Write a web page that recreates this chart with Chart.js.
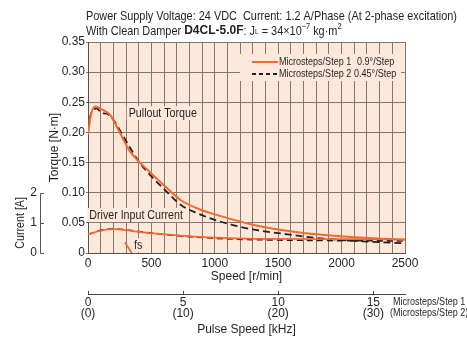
<!DOCTYPE html>
<html lang="en">
<head>
<meta charset="UTF-8" />
<title>Speed - Torque Characteristics</title>
<style>
  html, body { margin: 0; padding: 0; background: #fff; }
  canvas { display: block; }
</style>
</head>
<body>
<canvas id="torqueChart" width="467" height="343"></canvas>
<script src="https://cdn.jsdelivr.net/npm/chart.js"></script>
<script>
const FONT = "'Liberation Sans', Arial, sans-serif";
const SX = 0.82; // horizontal squeeze for the condensed look of the original lettering
const ORANGE = '#f26a2e';
const DARK = '#231f20';
const PLOT_BG = '#fde9dc';
const GRID = '#85776e';

// Pullout torque [N·m], Microsteps/Step 1 (0.9°/Step)
const torque1Speed = [0, 20, 55, 120, 175, 250, 330, 400, 500, 600, 730, 850, 1000, 1150, 1300, 1500, 1800, 2100, 2500];
const torque1 = [0.196, 0.226, 0.243, 0.237, 0.229, 0.200, 0.169, 0.152, 0.132, 0.112, 0.088, 0.075, 0.064, 0.055, 0.047, 0.039, 0.031, 0.026, 0.022];

// Pullout torque [N·m], Microsteps/Step 2 (0.45°/Step)
const torque2Speed = [0, 20, 42, 68, 108, 147, 200, 280, 400, 500, 600, 730, 850, 1000, 1150, 1300, 1500, 1800, 2200, 2500];
const torque2 = [0.204, 0.228, 0.237, 0.240, 0.232, 0.231, 0.221, 0.193, 0.152, 0.127, 0.106, 0.080, 0.067, 0.055, 0.046, 0.039, 0.033, 0.025, 0.019, 0.016];

// Driver input current [A]
const currentSpeed = [0, 100, 200, 300, 400, 500, 750, 1000, 1250, 1500, 2000, 2500];
const current1 = [0.62, 0.74, 0.79, 0.76, 0.70, 0.66, 0.57, 0.51, 0.48, 0.47, 0.46, 0.45];
const current2 = [0.62, 0.75, 0.80, 0.77, 0.71, 0.66, 0.56, 0.49, 0.45, 0.43, 0.41, 0.40];

// fs (start frequency) marker
const fsSpeed = [290, 345];
const fsTorque = [0.018, 0];

const speedTicks = [0, 500, 1000, 1500, 2000, 2500];
const pulseTicks = [0, 5, 10, 15];
const currentTicks = [0, 1, 2];

const SPEED_MAX = 2500;
const PULSE_MAX = SPEED_MAX * 400 / 60 / 1000; // kHz at 0.9°/step

function pts(xs, ys) {
  return xs.map((x, i) => ({ x: x, y: ys[i] }));
}

// draw squeezed text, returns drawn width
function condText(ctx, text, x, y, align) {
  ctx.save();
  ctx.translate(x, y);
  ctx.scale(SX, 1);
  ctx.textAlign = align || 'left';
  ctx.fillText(text, 0, 0);
  ctx.restore();
  return ctx.measureText(text).width * SX;
}

function boxedText(ctx, text, px, py, align) {
  ctx.font = '13px ' + FONT;
  const w = ctx.measureText(text).width * SX;
  const x0 = align === 'left' ? px : px - w / 2;
  ctx.fillStyle = PLOT_BG;
  ctx.fillRect(x0 - 2, py - 7, w + 4, 14);
  ctx.fillStyle = DARK;
  ctx.textBaseline = 'middle';
  condText(ctx, text, x0, py, 'left');
}

const decorations = {
  id: 'decorations',
  beforeDraw(chart) {
    const { ctx, chartArea: a } = chart;
    ctx.save();
    ctx.fillStyle = PLOT_BG;
    ctx.fillRect(a.left, a.top, a.right - a.left, a.bottom - a.top);
    ctx.restore();
  },
  beforeDatasetsDraw(chart) {
    const { ctx, chartArea: a, scales: { x, y } } = chart;
    ctx.save();
    boxedText(ctx, 'Pullout Torque', x.getPixelForValue(590), y.getPixelForValue(0.232), 'center');
    boxedText(ctx, 'Driver Input Current', x.getPixelForValue(10), y.getPixelForValue(0.063), 'left');
    boxedText(ctx, 'fs', x.getPixelForValue(395), y.getPixelForValue(0.013), 'center');

    // legend box
    const lx = a.right - 165, ly = a.top + 12;
    ctx.fillStyle = PLOT_BG;
    ctx.fillRect(lx, ly, 161, 27);
    ctx.lineWidth = 2;
    ctx.strokeStyle = ORANGE;
    ctx.beginPath();
    ctx.moveTo(lx + 12, ly + 8);
    ctx.lineTo(lx + 38, ly + 8);
    ctx.stroke();
    ctx.strokeStyle = DARK;
    ctx.lineWidth = 1.8;
    ctx.setLineDash([4, 3]);
    ctx.beginPath();
    ctx.moveTo(lx + 12, ly + 20);
    ctx.lineTo(lx + 38, ly + 20);
    ctx.stroke();
    ctx.setLineDash([]);
    ctx.font = '11px ' + FONT;
    ctx.fillStyle = DARK;
    ctx.textBaseline = 'middle';
    condText(ctx, 'Microsteps/Step 1', lx + 39, ly + 8);
    condText(ctx, '0.9°/Step', lx + 117, ly + 8);
    condText(ctx, 'Microsteps/Step 2', lx + 39, ly + 20);
    condText(ctx, '0.45°/Step', lx + 114, ly + 20);
    ctx.restore();
  },
  afterDraw(chart) {
    const { ctx, scales: { yc, x2 } } = chart;
    ctx.save();
    ctx.fillStyle = DARK;
    ctx.textBaseline = 'middle';

    // heading
    ctx.font = '13.3px ' + FONT;
    condText(ctx, 'Power Supply Voltage: 24 VDC  Current: 1.2 A/Phase (At 2-phase excitation)', 86, 16);
    let cx = 86;
    const seg = (t, font, dy, sq) => {
      ctx.font = font;
      if (sq === false) {
        ctx.textAlign = 'left';
        ctx.fillText(t, cx, 31 + (dy || 0));
        cx += ctx.measureText(t).width;
      } else {
        cx += condText(ctx, t, cx, 31 + (dy || 0));
      }
    };
    seg('With Clean Damper ', '13.3px ' + FONT);
    seg('D4CL-5.0F', "bold 12px 'Liberation Sans', Arial, sans-serif", 0, false);
    seg(': J', '13.3px ' + FONT);
    seg('L', '8px ' + FONT, 1);
    seg(' = 34×10', '13.3px ' + FONT);
    seg('−7', '9px ' + FONT, -4);
    seg(' kg·m', '13.3px ' + FONT);
    seg('2', '9px ' + FONT, -4);

    // current axis (bracket)
    const cTop = Math.round(yc.getPixelForValue(2)) + 0.5;
    const cBot = Math.round(yc.getPixelForValue(0)) + 0.5;
    ctx.strokeStyle = '#555';
    ctx.lineWidth = 1;
    ctx.beginPath();
    ctx.moveTo(40.5, cTop);
    ctx.lineTo(40.5, cBot);
    currentTicks.forEach(v => {
      const py = Math.round(yc.getPixelForValue(v)) + 0.5;
      ctx.moveTo(40.5, py);
      ctx.lineTo(44, py);
    });
    ctx.stroke();
    ctx.font = '12px ' + FONT;
    ctx.textAlign = 'right';
    currentTicks.forEach(v => ctx.fillText(String(v), 37, yc.getPixelForValue(v)));
    ctx.save();
    ctx.translate(20, yc.getPixelForValue(1));
    ctx.rotate(-Math.PI / 2);
    ctx.font = '13px ' + FONT;
    condText(ctx, 'Current [A]', 0, 0, 'center');
    ctx.restore();

    // pulse speed axis: up ticks and step notes
    ctx.strokeStyle = '#444';
    ctx.beginPath();
    pulseTicks.forEach(v => {
      const px = Math.round(x2.getPixelForValue(v)) + 0.5;
      ctx.moveTo(px, x2.top);
      ctx.lineTo(px, x2.top - 3);
    });
    ctx.stroke();
    ctx.font = '11px ' + FONT;
    condText(ctx, 'Microsteps/Step 1', 393, 302);
    condText(ctx, '(Microsteps/Step 2)', 390, 313);
    ctx.restore();
  }
};

const ctx = document.getElementById('torqueChart').getContext('2d');
new Chart(ctx, {
  type: 'line',
  data: {
    datasets: [
      { data: pts(torque1Speed, torque1), yAxisID: 'y', borderColor: ORANGE, borderWidth: 2 },
      { data: pts(currentSpeed, current1), yAxisID: 'yc', borderColor: ORANGE, borderWidth: 1.8 },
      { data: pts(fsSpeed, fsTorque), yAxisID: 'y', borderColor: ORANGE, borderWidth: 1.8, tension: 0 },
      { data: pts(torque2Speed, torque2), yAxisID: 'y', borderColor: DARK, borderWidth: 1.8, borderDash: [7, 4] },
      { data: pts(currentSpeed, current2), yAxisID: 'yc', borderColor: DARK, borderWidth: 1.6, borderDash: [6, 4] }
    ]
  },
  options: {
    responsive: false,
    devicePixelRatio: 1,
    animation: false,
    layout: { padding: { left: 44, top: 42, right: 62, bottom: 0 } },
    elements: {
      point: { radius: 0 },
      line: { cubicInterpolationMode: 'monotone', fill: false }
    },
    plugins: { legend: { display: false }, tooltip: { enabled: false }, title: { display: false } },
    scales: {
      x: {
        type: 'linear',
        position: 'bottom',
        min: 0,
        max: SPEED_MAX,
        afterFit: s => { s.height = 41; },
        grid: { color: GRID, lineWidth: 1, drawTicks: false },
        border: { color: '#5a4f4a', width: 1 },
        ticks: {
          stepSize: 100,
          autoSkip: false,
          maxRotation: 0,
          padding: 3,
          color: DARK,
          font: { family: FONT, size: 12 },
          callback: v => speedTicks.includes(v) ? String(v) : ''
        },
        title: { display: true, text: 'Speed [r/min]', color: DARK, font: { family: FONT, size: 12 }, padding: { top: 0, bottom: 10 } }
      },
      x2: {
        type: 'linear',
        position: 'bottom',
        min: 0,
        max: PULSE_MAX,
        weight: 5,
        afterFit: s => { s.height = 49; },
        afterBuildTicks: s => { s.ticks = pulseTicks.map(v => ({ value: v })); },
        grid: { display: false, drawTicks: false },
        border: { display: true, color: '#444', width: 1 },
        ticks: {
          autoSkip: false,
          maxRotation: 0,
          padding: 3,
          color: DARK,
          font: { family: FONT, size: 12, lineHeight: 0.92 },
          callback: v => [String(v), '(' + v * 2 + ')']
        },
        title: { display: true, text: 'Pulse Speed [kHz]', color: DARK, font: { family: FONT, size: 12 }, padding: { top: 0, bottom: 6 } }
      },
      y: {
        position: 'left',
        min: 0,
        max: 0.35,
        afterFit: s => { s.width = 44; },
        grid: { color: GRID, lineWidth: 1, tickLength: 2 },
        border: { color: '#5a4f4a', width: 1 },
        ticks: {
          stepSize: 0.05,
          padding: 1,
          color: DARK,
          font: { family: FONT, size: 12 },
          callback: v => v === 0 ? '0' : v.toFixed(2)
        },
        title: { display: true, text: 'Torque [N·m]', color: DARK, font: { family: FONT, size: 12 }, padding: { top: 3, bottom: 0 } }
      },
      yc: {
        display: false,
        position: 'left',
        min: 0,
        max: 7
      }
    }
  },
  plugins: [decorations]
});
</script>
</body>
</html>
